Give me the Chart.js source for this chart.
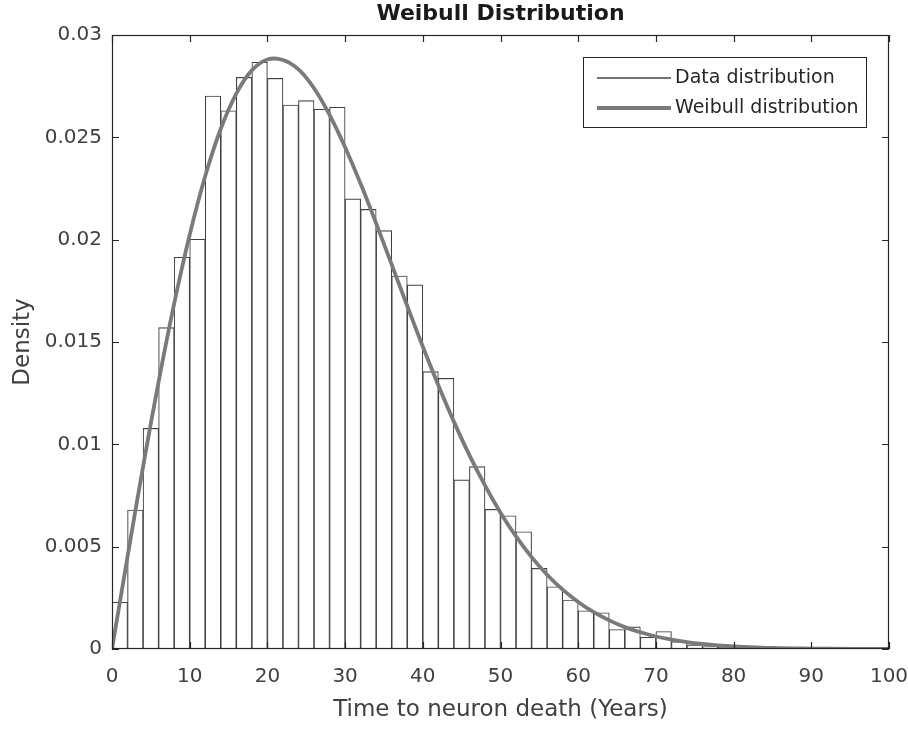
<!DOCTYPE html>
<html>
<head>
<meta charset="utf-8">
<title>Weibull Distribution</title>
<script src="https://cdn.jsdelivr.net/npm/chart.js@4.4.1/dist/chart.umd.min.js"></script>
<style>
  html, body { margin: 0; padding: 0; background: #fff; }
  #wrap { width: 908px; height: 729px; }
</style>
</head>
<body>
<div id="wrap"><canvas id="weibullChart" width="908" height="729"></canvas></div>
<script>
// histogram: 2-year bins, centre of each bin and its density
const binCenters = [1, 3, 5, 7, 9, 11, 13, 15, 17, 19, 21, 23, 25, 27, 29, 31, 33, 35, 37, 39,
  41, 43, 45, 47, 49, 51, 53, 55, 57, 59, 61, 63, 65, 67, 69, 71, 73, 75, 77, 79, 81, 83, 85, 87, 89];
const binDensity = [0.00228, 0.00679, 0.01078, 0.0157, 0.01914, 0.02002, 0.02702, 0.0263, 0.02793, 0.02867,
  0.02788, 0.02658, 0.02679, 0.02637, 0.02647, 0.02199, 0.02148, 0.02044, 0.01822, 0.01779,
  0.01355, 0.01322, 0.00826, 0.00891, 0.00682, 0.00651, 0.00573, 0.00394, 0.00304, 0.00239,
  0.00187, 0.00177, 0.00095, 0.00108, 0.00057, 0.00085, 0.00036, 0.0002, 0.00012, 0.00008,
  0.00015, 0.00006, 0.00004, 0.00003, 0.00002];

// fitted Weibull curve
const fitYears = [0, 2, 4, 6, 8, 10, 12, 14, 16, 18, 20, 22, 24, 26, 28, 30, 32, 34, 36, 38, 40,
  42, 44, 46, 48, 50, 52, 54, 56, 58, 60, 62, 64, 66, 68, 70, 72, 74, 76, 78, 80, 85, 90, 95, 100];
const fitDensity = [0, 0.00451, 0.00891, 0.01306, 0.01687, 0.02024, 0.02311, 0.02542, 0.02714, 0.02827,
  0.02880, 0.02878, 0.02832, 0.0274, 0.0261, 0.02452, 0.02273, 0.02079, 0.01878, 0.01676, 0.01478,
  0.01289, 0.01111, 0.00947, 0.00799, 0.00666, 0.0055, 0.00449, 0.00363, 0.0029, 0.0023,
  0.0018, 0.0014, 0.00107, 0.00082, 0.00061, 0.00046, 0.00034, 0.00025, 0.00018, 0.00013,
  0.00005, 0.00002, 0.00001, 0];

const xTicks = [0, 10, 20, 30, 40, 50, 60, 70, 80, 90, 100];
const yTicks = [0, 0.005, 0.01, 0.015, 0.02, 0.025, 0.03];
const legendLabels = ['Data distribution', 'Weibull distribution'];

const FONT = 'DejaVu Sans';
const AXIS_COLOR = '#262626';
const TEXT_COLOR = '#404040';
const BAR_EDGE = '#404040';
const FIT_COLOR = '#7a7a7a';

// MATLAB-style box around the axes with inward ticks on all four sides
const axesBox = {
  id: 'axesBox',
  afterDatasetsDraw(chart) {
    const { ctx, chartArea: a, scales: { x, y } } = chart;
    const len = 7;
    ctx.save();
    ctx.strokeStyle = AXIS_COLOR;
    ctx.lineWidth = 1.2;
    ctx.strokeRect(a.left + 0.5, a.top + 0.5, a.right - a.left - 1, a.bottom - a.top - 1);
    ctx.beginPath();
    xTicks.forEach(v => {
      const px = Math.round(x.getPixelForValue(v)) + 0.5;
      ctx.moveTo(px, a.bottom); ctx.lineTo(px, a.bottom - len);
      ctx.moveTo(px, a.top); ctx.lineTo(px, a.top + len);
    });
    yTicks.forEach(v => {
      const py = Math.round(y.getPixelForValue(v)) + 0.5;
      ctx.moveTo(a.left, py); ctx.lineTo(a.left + len, py);
      ctx.moveTo(a.right, py); ctx.lineTo(a.right - len, py);
    });
    ctx.stroke();
    ctx.restore();
  }
};

// legend box in the upper right corner of the plot
const boxLegend = {
  id: 'boxLegend',
  afterDraw(chart) {
    const { ctx, chartArea: a } = chart;
    const bx = a.right - 306, by = a.top + 22, bw = 283, bh = 70;
    ctx.save();
    ctx.fillStyle = '#ffffff';
    ctx.fillRect(bx, by, bw, bh);
    ctx.strokeStyle = AXIS_COLOR;
    ctx.lineWidth = 1;
    ctx.strokeRect(bx + 0.5, by + 0.5, bw, bh);

    const rows = [
      { label: legendLabels[0], color: '#444444', width: 1.5, y: by + 21 },
      { label: legendLabels[1], color: FIT_COLOR, width: 4, y: by + 51 }
    ];
    ctx.font = '19px "' + FONT + '"';
    ctx.textBaseline = 'middle';
    rows.forEach(r => {
      ctx.strokeStyle = r.color;
      ctx.lineWidth = r.width;
      ctx.beginPath();
      ctx.moveTo(bx + 14, r.y);
      ctx.lineTo(bx + 88, r.y);
      ctx.stroke();
      ctx.fillStyle = AXIS_COLOR;
      ctx.fillText(r.label, bx + 92, r.y);
    });
    ctx.restore();
  }
};

const ctx = document.getElementById('weibullChart').getContext('2d');
new Chart(ctx, {
  type: 'bar',
  data: {
    datasets: [
      {
        type: 'line',
        label: legendLabels[1],
        data: fitYears.map((x, i) => ({ x: x, y: fitDensity[i] })),
        borderColor: FIT_COLOR,
        borderWidth: 3.8,
        pointRadius: 0,
        tension: 0.4,
        fill: false,
        order: 0
      },
      {
        type: 'bar',
        label: legendLabels[0],
        data: binCenters.map((x, i) => ({ x: x, y: binDensity[i] })),
        backgroundColor: '#ffffff',
        borderColor: BAR_EDGE,
        borderWidth: 1.1,
        borderSkipped: false,
        barPercentage: 1,
        categoryPercentage: 1,
        order: 1
      }
    ]
  },
  options: {
    responsive: false,
    animation: false,
    devicePixelRatio: 1,
    layout: { padding: { left: 0, right: 19, top: 0, bottom: 0 } },
    plugins: {
      legend: { display: false },
      tooltip: { enabled: false },
      title: {
        display: true,
        fullSize: false,
        text: 'Weibull Distribution',
        color: '#1a1a1a',
        font: { family: FONT, size: 22, weight: 'bold' },
        padding: { top: 1, bottom: 7.6 }
      }
    },
    scales: {
      x: {
        type: 'linear',
        min: 0,
        max: 100,
        offset: false,
        afterBuildTicks: s => { s.ticks = xTicks.map(v => ({ value: v })); },
        afterFit: s => { s.height = 80; s.paddingLeft = 0; s.paddingRight = 0; },
        grid: { display: false, drawTicks: false },
        border: { display: false },
        ticks: {
          color: TEXT_COLOR,
          font: { family: FONT, size: 20 },
          padding: 16,
          maxRotation: 0,
          callback: v => String(v)
        },
        title: {
          display: true,
          text: 'Time to neuron death (Years)',
          color: TEXT_COLOR,
          font: { family: FONT, size: 23 },
          padding: { top: 0, bottom: 5 }
        }
      },
      y: {
        min: 0,
        max: 0.03,
        afterBuildTicks: s => { s.ticks = yTicks.map(v => ({ value: v })); },
        afterFit: s => { s.width = 112; },
        grid: { display: false, drawTicks: false },
        border: { display: false },
        ticks: {
          color: TEXT_COLOR,
          font: { family: FONT, size: 20 },
          padding: 10,
          callback: v => String(+v.toFixed(3))
        },
        title: {
          display: true,
          text: 'Density',
          color: TEXT_COLOR,
          font: { family: FONT, size: 23 },
          padding: { top: 9, bottom: 0 }
        }
      }
    }
  },
  plugins: [axesBox, boxLegend]
});
</script>
</body>
</html>
